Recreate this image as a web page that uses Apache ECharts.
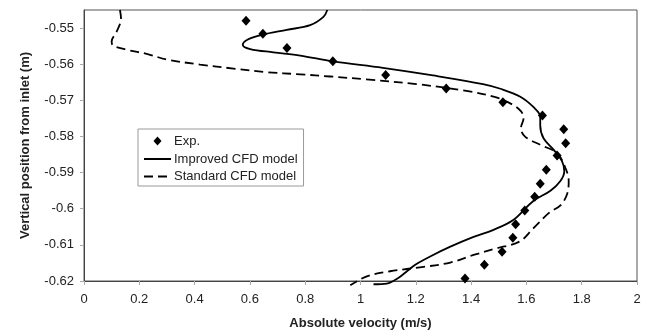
<!DOCTYPE html>
<html>
<head>
<meta charset="utf-8">
<script src="https://cdn.jsdelivr.net/npm/echarts@6/dist/echarts.min.js"></script>
<style>
html,body{margin:0;padding:0;background:#fff;}
#c{width:646px;height:335px;}
</style>
</head>
<body>
<div id="c"></div>
<script>
var xTicks = [0, 0.2, 0.4, 0.6, 0.8, 1, 1.2, 1.4, 1.6, 1.8, 2];
var yTicks = [-0.62, -0.61, -0.6, -0.59, -0.58, -0.57, -0.56, -0.55];

var expX = [0.586, 0.647, 0.734, 0.900, 1.091, 1.310, 1.515, 1.658, 1.735, 1.742, 1.711, 1.672, 1.650, 1.630, 1.594, 1.561, 1.551, 1.512, 1.448, 1.378];
var expY = [-0.5480, -0.5516, -0.5555, -0.5592, -0.5630, -0.5667, -0.5705, -0.5742, -0.5780, -0.5819, -0.5853, -0.5892, -0.5931, -0.5967, -0.6005, -0.6043, -0.6080, -0.6119, -0.6155, -0.6193];

var improvedX = [0.880, 0.866, 0.818, 0.733, 0.643, 0.589, 0.574, 0.601, 0.685, 0.782, 0.900, 1.081, 1.262, 1.443, 1.506, 1.578, 1.626, 1.650, 1.650, 1.662, 1.699, 1.729, 1.737, 1.723, 1.687, 1.626, 1.551, 1.479, 1.409, 1.325, 1.252, 1.198, 1.168, 1.138, 1.095, 1.047];
var improvedY = [-0.5450, -0.5469, -0.5492, -0.5505, -0.5519, -0.5533, -0.5546, -0.5558, -0.5567, -0.5576, -0.5592, -0.5610, -0.5631, -0.5655, -0.5668, -0.5690, -0.5719, -0.5745, -0.5769, -0.5805, -0.5837, -0.5869, -0.5896, -0.5923, -0.5950, -0.5978, -0.6032, -0.6059, -0.6078, -0.6105, -0.6132, -0.6155, -0.6173, -0.6191, -0.6207, -0.6209];

var standardX = [0.130, 0.134, 0.118, 0.100, 0.106, 0.155, 0.230, 0.299, 0.420, 0.540, 0.661, 0.782, 0.890, 1.021, 1.202, 1.383, 1.491, 1.550, 1.580, 1.590, 1.580, 1.596, 1.650, 1.711, 1.741, 1.753, 1.747, 1.723, 1.684, 1.624, 1.575, 1.490, 1.409, 1.325, 1.228, 1.107, 1.023, 0.963];
var standardY = [-0.5450, -0.5474, -0.5510, -0.5537, -0.5549, -0.5560, -0.5572, -0.5587, -0.5601, -0.5612, -0.5622, -0.5628, -0.5634, -0.5642, -0.5655, -0.5674, -0.5692, -0.5712, -0.5730, -0.5748, -0.5778, -0.5801, -0.5823, -0.5846, -0.5887, -0.5923, -0.5960, -0.5991, -0.6010, -0.6055, -0.6091, -0.6110, -0.6128, -0.6149, -0.6161, -0.6173, -0.6187, -0.6212];

function pairs(xs, ys) { return xs.map(function (x, i) { return [x, ys[i]]; }); }

var FONT = 'Liberation Sans, Arial, sans-serif';
var diamondIcon = 'path://M0,0 M14,0 M0,14 M14,14 M7,2.5 L11,7 L7,11.5 L3,7 Z';
var chart = echarts.init(document.getElementById('c'), null, {renderer: 'canvas'});
chart.setOption({
  animation: false,
  backgroundColor: '#fff',
  grid: {left: 84, right: 9, top: 10, bottom: 50, show: true, borderColor: '#555', borderWidth: 1, containLabel: false},
  legend: {
    orient: 'vertical', left: 138, top: 129,
    itemWidth: 27, itemHeight: 14, itemGap: 4.5,
    padding: [5, 6, 3, 5],
    symbolKeepAspect: true,
    borderColor: '#999', borderWidth: 1, backgroundColor: '#fff',
    textStyle: {fontFamily: FONT, fontSize: 13, color: '#222', padding: [0, 0, 0, -2]},
    data: [
      {name: 'Exp.', icon: diamondIcon, itemStyle: {color: '#000', opacity: 1}},
      {name: 'Improved CFD model', itemStyle: {opacity: 0}},
      {name: 'Standard CFD model', itemStyle: {opacity: 0}}
    ]
  },
  xAxis: {
    type: 'value', min: 0, max: 2, interval: 0.2,
    name: 'Absolute velocity (m/s)', nameLocation: 'middle', nameGap: 36,
    nameTextStyle: {fontFamily: FONT, fontSize: 13, fontWeight: 'bold', color: '#222'},
    axisLine: {show: true, lineStyle: {color: '#444', width: 1}},
    axisTick: {show: true, length: 4, lineStyle: {color: '#aaa'}},
    axisLabel: {fontFamily: FONT, fontSize: 13, color: '#222', margin: 12, customValues: xTicks},
    splitLine: {show: false}
  },
  yAxis: {
    type: 'value', min: -0.62, max: -0.545, interval: 0.01,
    name: 'Vertical position from inlet (m)', nameLocation: 'middle', nameGap: 52,
    nameTextStyle: {fontFamily: FONT, fontSize: 13, fontWeight: 'bold', color: '#222'},
    axisLine: {show: true, lineStyle: {color: '#444', width: 1}},
    axisTick: {show: true, length: 4, lineStyle: {color: '#aaa'}, customValues: yTicks},
    axisLabel: {fontFamily: FONT, fontSize: 13, color: '#222', margin: 10, customValues: yTicks},
    splitLine: {show: false}
  },
  series: [
    {
      name: 'Exp.', type: 'scatter', symbol: 'diamond', symbolSize: [9, 10],
      itemStyle: {color: '#000', opacity: 1},
      data: pairs(expX, expY), z: 5
    },
    {
      name: 'Improved CFD model', type: 'line', showSymbol: false, symbol: 'none',
      smooth: 0.35, clip: false,
      lineStyle: {color: '#000', width: 1.8, type: 'solid'},
      itemStyle: {color: '#000'},
      data: pairs(improvedX, improvedY)
    },
    {
      name: 'Standard CFD model', type: 'line', showSymbol: false, symbol: 'none',
      smooth: 0.35, clip: false,
      lineStyle: {color: '#000', width: 1.8, type: [9, 5]},
      itemStyle: {color: '#000'},
      data: pairs(standardX, standardY)
    }
  ]
});
</script>
</body>
</html>
